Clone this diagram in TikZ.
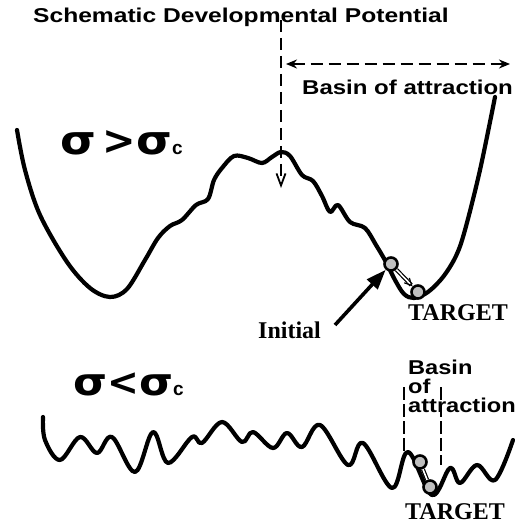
\documentclass[tikz,border=0pt]{standalone}
\usepackage{fontspec}
\setmainfont{Liberation Serif}
\setsansfont{Liberation Sans}
\newfontfamily\sigfont{DejaVu Sans}
\usetikzlibrary{arrows.meta}
\begin{document}
\begin{tikzpicture}[x=1pt,y=-1pt,
  curve/.style={line width=4.2pt, line cap=round, line join=round},
  ball/.style={circle, draw=black, fill=gray!50, line width=2.6pt, minimum size=13pt, inner sep=0pt},
  sanslab/.style={font=\sffamily\bfseries\fontsize{20}{22}\selectfont, inner sep=0pt, anchor=base west},
  seriflab/.style={font=\rmfamily\bfseries\fontsize{24}{26}\selectfont, inner sep=0pt, anchor=base west},
  siglab/.style={inner sep=0pt, anchor=base west},
  dashline/.style={line width=2.4pt, dash pattern=on 12pt off 6pt},
  thindash/.style={line width=1.3pt, dash pattern=on 13pt off 4pt},
]
\useasboundingbox (0,0) rectangle (531,527);
\fill[white] (0,0) rectangle (531,527);

% texts
\node[sanslab] (title) at (33,23) {\scalebox{1.23}[1]{Schematic Developmental Potential}};
\node[sanslab] (basin1) at (302,95) {\scalebox{1.2}[1]{Basin of attraction}};
\node[sanslab] (basin2a) at (408,374) {\scalebox{1.18}[1]{Basin}};
\node[sanslab] (basin2b) at (408,393) {\scalebox{1.18}[1]{of}};
\node[sanslab] (basin2c) at (408,412) {\scalebox{1.18}[1]{attraction}};
\node[seriflab] (initlab) at (258,338) {Initial};
\node[seriflab] (target1) at (408,320) {TARGET};
\node[seriflab] (target2) at (405,519) {TARGET};
\node[siglab] (sig1) at (60,155) {{\sigfont\bfseries\fontsize{40}{40}\selectfont\scalebox{1.15}[1]{σ}\,>\scalebox{1.15}[1]{σ}}{\sffamily\bfseries\fontsize{19}{19}\selectfont c}};
\node[siglab] (sig2) at (73,395) {{\sigfont\bfseries\fontsize{38}{38}\selectfont\scalebox{1.15}[1]{σ}<\scalebox{1.15}[1]{σ}}{\sffamily\bfseries\fontsize{19}{19}\selectfont c}};

% top potential
\draw[curve] plot[smooth, tension=0.55] coordinates {
 (17,130) (25,170) (40,215) (67,262) (90,288) (110,297) (127,289) (145,260)
 (158,238) (170,226) (182,220) (196,205) (208,199) (214,180) (222,168) (234,156)
 (248,158) (262,163) (272,157) (281,152) (290,156) (302,175) (313,181) (322,196)
 (330,212) (338,205) (350,222) (365,228) (376,245) (386,262) (395,280) (404,294)
 (414,298) (428,292) (443,277) (456,256) (465,230) (480,170) (495,97)};

% bottom potential
\draw[curve] plot[smooth, tension=0.6] coordinates {
 (43,417) (45,440) (60,460) (80,437) (97,453) (112,437) (135,472) (153,432)
 (168,463) (192,437) (202,443) (222,422) (242,442) (253,432) (273,448) (287,433)
 (302,447) (320,425) (348,465) (363,443) (392,488) (408,452) (432,495) (450,468)
 (460,483) (477,465) (495,480) (513,440)};

% dashed guides
\coordinate (vtop) at (281,20);
\coordinate (vbot) at (281,188);
\draw[dashline, -{Straight Barb[length=12pt,width=9pt,line width=1.8pt]}] (vtop) -- (vbot);
\coordinate (hl) at (286,64);
\coordinate (hr) at (510,64);
\draw[dashline, {Stealth[length=11pt,width=9pt]}-{Stealth[length=11pt,width=9pt]}] (hl) -- (hr);
\coordinate (dl1) at (404,387);
\coordinate (dl2) at (404,452);
\coordinate (dr1) at (441,387);
\coordinate (dr2) at (441,465);
\draw[thindash] (dl1) -- (dl2);
\draw[thindash] (dr1) -- (dr2);

% balls and arrows
\node[ball] (init1) at (391,264) {};
\node[ball] (tgt1) at (418,292) {};
\draw[line width=1.2pt, double, double distance=1.6pt, -{Straight Barb[length=7pt,width=7pt]}] (init1) -- (tgt1);
\coordinate (ia) at (335,325);
\draw[line width=3.6pt, -{Triangle[length=20pt,width=14pt]}] (ia) -- (init1);

\node[ball] (init2) at (420,462) {};
\node[ball] (tgt2) at (430,487) {};
\draw[line width=1.2pt, double, double distance=1.6pt] (init2) -- (tgt2);
\end{tikzpicture}
\end{document}
